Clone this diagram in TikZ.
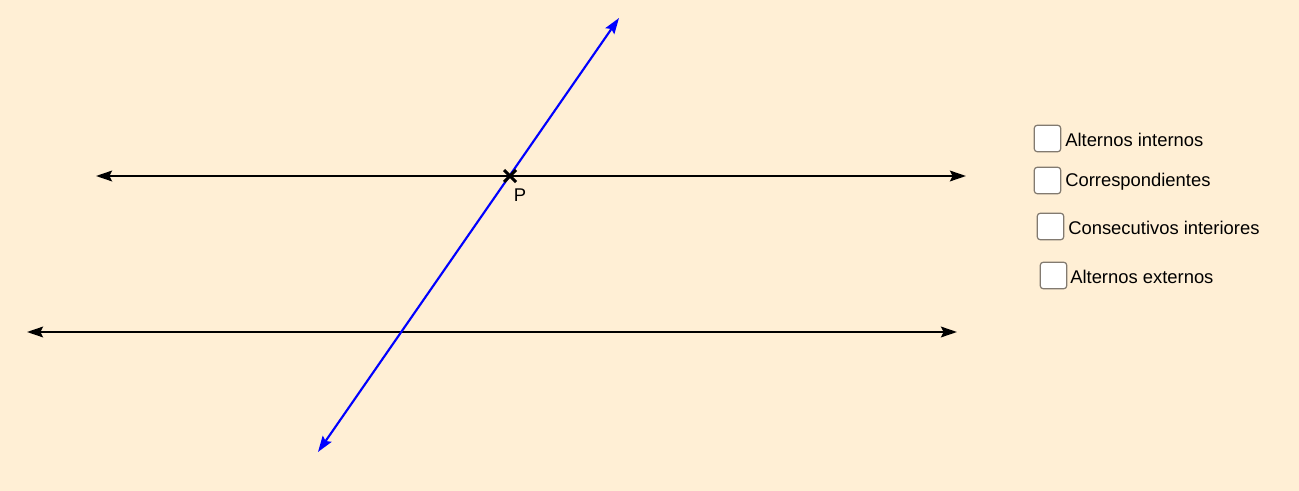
\documentclass[tikz,border=0pt]{standalone}
\usepackage{fontspec}
\setmainfont{Liberation Sans}
\usetikzlibrary{arrows.meta,calc}
\definecolor{bg}{RGB}{255,239,213}
\definecolor{boxgray}{RGB}{130,122,112}
\tikzset{
  tip/.tip={Stealth[length=12pt,width=8pt,inset=2pt]},
  pline/.style={line width=1.7pt, black, tip-tip},
  tline/.style={line width=1.6pt, blue, tip-tip},
  cbox/.style={draw=boxgray, line width=0.9pt, fill=white, rounded corners=2.5pt, minimum width=20pt, minimum height=20pt, inner sep=0pt},
  cblabel/.style={anchor=west, inner sep=0pt, font=\fontsize{13.8pt}{16pt}\selectfont},
}
\begin{document}
\begin{tikzpicture}[x=0.75pt,y=-0.75pt]
\fill[bg] (0,0) rectangle (1299,491);
\useasboundingbox (0,0) rectangle (1299,491);
% parallel lines
\coordinate (a1) at (96,176);
\coordinate (a2) at (966,176);
\coordinate (b1) at (27,332);
\coordinate (b2) at (957,332);
\draw[pline] (a1) -- (a2);
\draw[pline] (b1) -- (b2);
% transversal
\coordinate (t1) at (318,452);
\coordinate (t2) at (619,18);
\draw[tline] (t1) -- (t2);
% point P
\coordinate (P) at (510,176);
\draw[line width=2.2pt] ($(P)+(-6,-6)$) -- ($(P)+(6,6)$);
\draw[line width=2.2pt] ($(P)+(-6,6)$) -- ($(P)+(6,-6)$);
\node[inner sep=0pt, font=\fontsize{13.8pt}{16pt}\selectfont] (Plabel) at (520,195) {P};
% checkboxes
\node[cbox] (c1) at (1047.5,138.5) {};
\node[cblabel] (l1) at (1065,140) {Alternos internos};
\node[cbox] (c2) at (1047.5,180.5) {};
\node[cblabel] (l2) at (1065,182) {Correspondientes};
\node[cbox] (c3) at (1050.5,226.5) {};
\node[cblabel] (l3) at (1068,228) {Consecutivos interiores};
\node[cbox] (c4) at (1053.5,275.5) {};
\node[cblabel] (l4) at (1070,277) {Alternos externos};
\end{tikzpicture}
\end{document}
